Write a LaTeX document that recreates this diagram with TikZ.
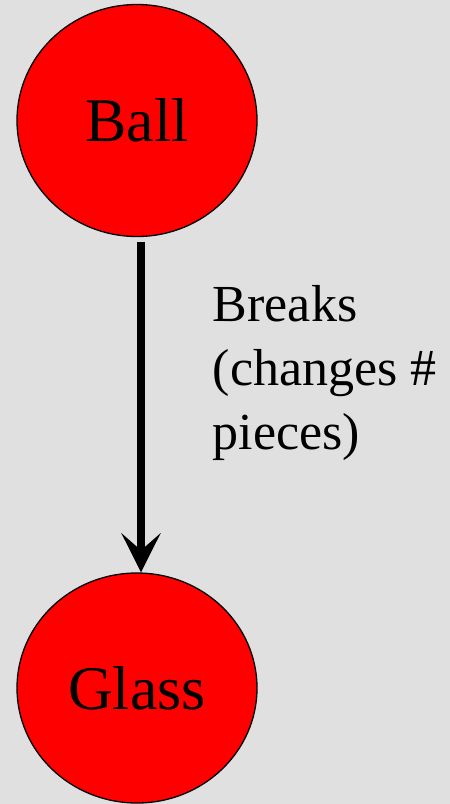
\documentclass[tikz,border=0pt]{standalone}
\usepackage{xcolor}
\usepackage{fontspec}
\newfontfamily\timesfont{Liberation Serif}
\usepackage{tikz}
\usetikzlibrary{shapes.geometric, arrows.meta, positioning}
\definecolor{Bg}  {HTML}{E0E0E0}
\definecolor{Ball}{HTML}{FF0000}
\tikzset{
  blob/.style={draw, ellipse, fill=Ball, line width=1.3pt, inner sep=0pt,
               minimum width=240pt, minimum height=232pt,
               font=\timesfont\fontsize{62}{74}\selectfont},
  arr/.style={-{Stealth[length=39pt,width=39pt,inset=17pt]}, line width=7.7pt},
  lbl/.style={anchor=north west, align=left, inner sep=0pt,
              font=\timesfont\fontsize{52}{64}\selectfont}
}

\begin{document}
\begin{tikzpicture}[x=1pt,y=-1pt]
  \fill[Bg] (0,0) rectangle (450,804);
  \useasboundingbox (0,0) rectangle (450,804);
  \node[blob] (ball) at (137,120.5) {Ball};
  \node[blob, minimum height=230pt] (glass) at (137,688) {Glass};
  \draw[arr, shorten <=4.5pt] ([xshift=4pt]ball.south) --
    node[lbl, xshift=68pt, yshift=123pt] (brk) {Breaks\\(changes \#\\pieces)}
    ([xshift=4pt]glass.north);
\end{tikzpicture}
\end{document}
